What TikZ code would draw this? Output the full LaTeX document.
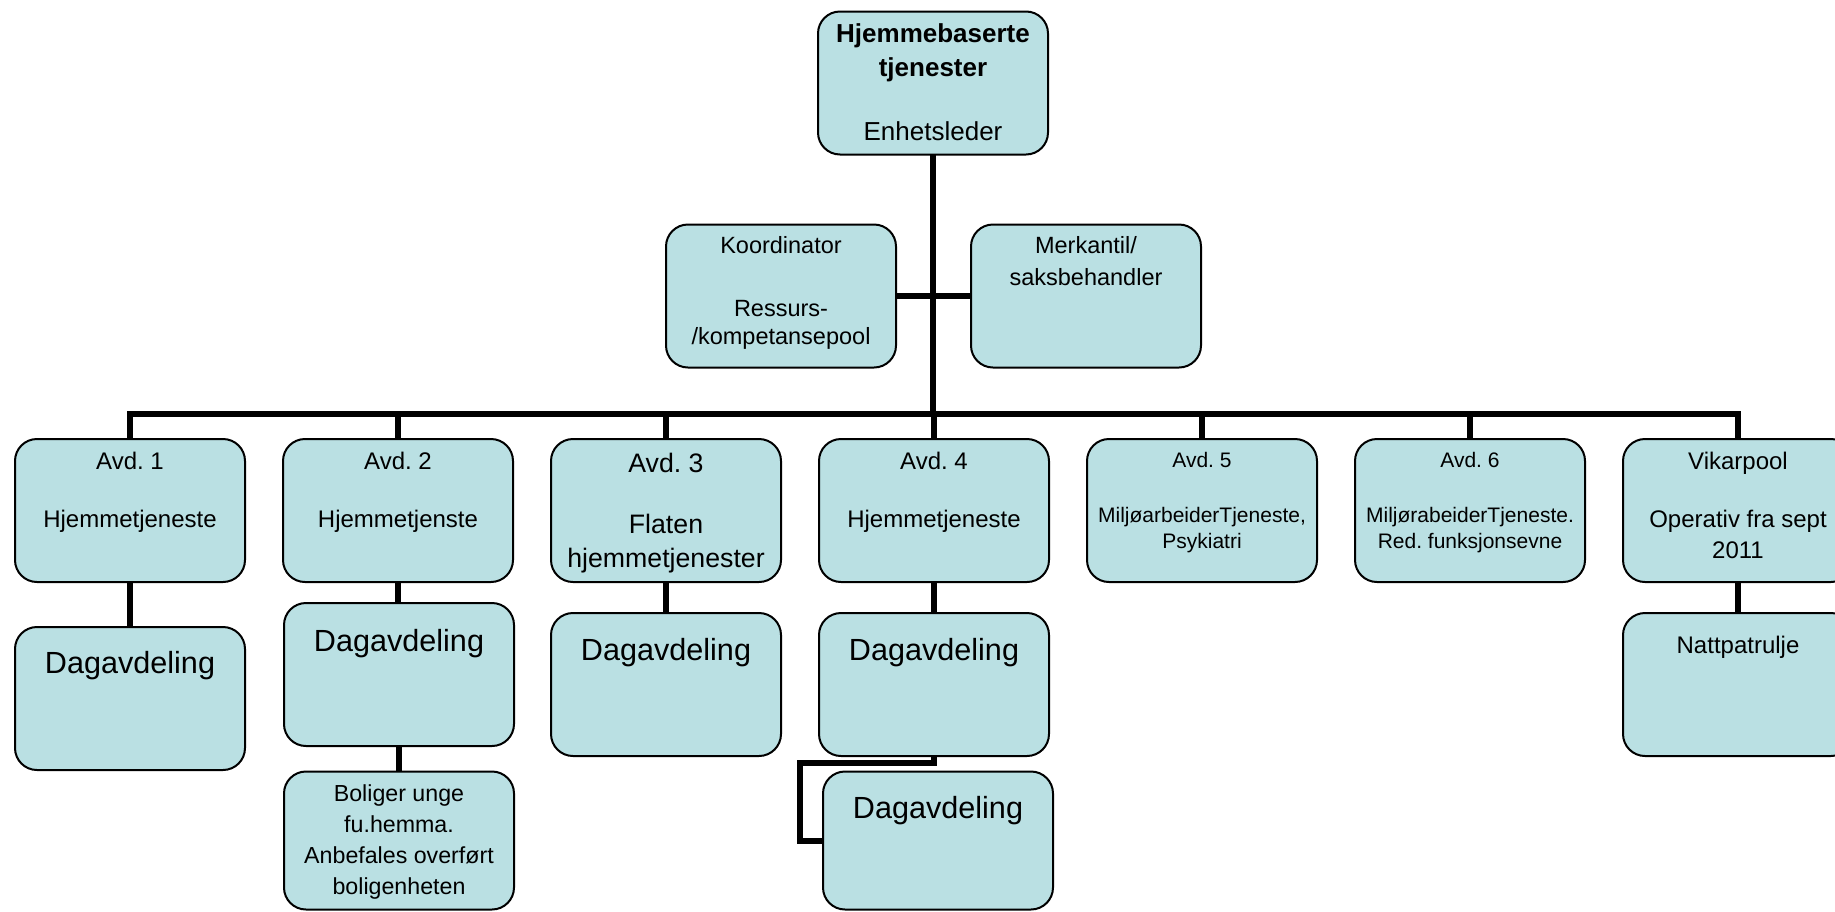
\documentclass[tikz,border=0pt]{standalone}
\usepackage{fontspec}
\setmainfont{Liberation Sans}
\usetikzlibrary{calc}
\definecolor{boxfill}{RGB}{186,224,227}
\frenchspacing
\tikzset{
  orgbox/.style={draw=black, line width=2pt, rounded corners=22pt, fill=boxfill,
    minimum width=230pt, minimum height=143pt, inner sep=0pt, outer sep=0pt},
  shortbox/.style={orgbox, minimum height=138pt},
  conn/.style={line width=6pt, draw=black},
  txt/.style={anchor=base, inner sep=0pt, font=\fontsize{#1}{#1}\selectfont},
  btxt/.style={anchor=base, inner sep=0pt, font=\fontsize{#1}{#1}\selectfont\bfseries},
}
\begin{document}
\begin{tikzpicture}[x=1pt,y=-1pt]
\clip (0,0) rectangle (1835,911);
\fill[white] (0,0) rectangle (1835,911);

% boxes
\node[orgbox] (top) at (933,83) {};
\node[orgbox] (koord) at (781,296) {};
\node[orgbox] (merk) at (1086,296) {};
\node[orgbox] (a1) at (130,510.5) {};
\node[orgbox] (a2) at (398,510.5) {};
\node[orgbox] (a3) at (666,510.5) {};
\node[orgbox] (a4) at (934,510.5) {};
\node[orgbox] (a5) at (1202,510.5) {};
\node[orgbox] (a6) at (1470,510.5) {};
\node[orgbox] (a7) at (1738,510.5) {};
\node[orgbox] (d1) at (130,698.5) {};
\node[orgbox] (d2) at (399,674.5) {};
\node[orgbox] (d3) at (666,684.5) {};
\node[orgbox] (d4) at (934,684.5) {};
\node[orgbox] (nat) at (1738,684.5) {};
\node[shortbox] (bol) at (399,840.5) {};
\node[shortbox] (d4b) at (938,840.5) {};

% connectors
\coordinate (busL) at (130,414);
\coordinate (elb) at (800,763);
\draw[conn] (top.south) -- (top.south |- busL);
\draw[conn] (koord.east) -- (merk.west);
\draw[conn] (a1.north) -- (a1.north |- busL) -- (a7.north |- busL) -- (a7.north);
\foreach \n in {a2,a3,a4,a5,a6}{\draw[conn] (\n.north) -- (\n.north |- busL);}
\draw[conn] (a1.south) -- (d1.north);
\draw[conn] (a2.south) -- (a2.south |- d2.north);
\draw[conn] (d2.south) -- (bol.north);
\draw[conn] (a3.south) -- (d3.north);
\draw[conn] (a4.south) -- (d4.north);
\draw[conn] (a7.south) -- (nat.north);
\draw[conn] (d4.south) -- (d4.south |- elb) -- (elb) |- (d4b.west);

% texts
\node[btxt=26] (t1) at (933,42) {Hjemmebaserte};
\node[btxt=26] (t2) at (933,76) {tjenester};
\node[txt=26] (t3) at (933,140) {Enhetsleder};

\node[txt=23.5] (k1) at (781,253) {Koordinator};
\node[txt=23.5] (k2) at (781,316) {Ressurs-};
\node[txt=23.5] (k3) at (781,344) {/kompetansepool};
\node[txt=23.5] (m1) at (1086,253) {Merkantil/};
\node[txt=23.5] (m2) at (1086,285) {saksbehandler};

\node[txt=24] (a1t1) at (130,469) {Avd. 1};
\node[txt=24] (a1t2) at (130,527) {Hjemmetjeneste};
\node[txt=24] (a2t1) at (398,469) {Avd. 2};
\node[txt=24] (a2t2) at (398,527) {Hjemmetjenste};
\node[txt=26.7] (a3t1) at (666,472) {Avd. 3};
\node[txt=26.7] (a3t2) at (666,533) {Flaten};
\node[txt=26.7] (a3t3) at (666,567) {hjemmetjenester};
\node[txt=24] (a4t1) at (934,469) {Avd. 4};
\node[txt=24] (a4t2) at (934,527) {Hjemmetjeneste};
\node[txt=21] (a5t1) at (1202,467) {Avd. 5};
\node[txt=21] (a5t2) at (1202,522) {MiljøarbeiderTjeneste,};
\node[txt=21] (a5t3) at (1202,548) {Psykiatri};
\node[txt=21] (a6t1) at (1470,467) {Avd. 6};
\node[txt=21] (a6t2) at (1470,522) {MiljørabeiderTjeneste.};
\node[txt=21] (a6t3) at (1470,548) {Red. funksjonsevne};
\node[txt=24] (a7t1) at (1738,469) {Vikarpool};
\node[txt=24] (a7t2) at (1738,527) {Operativ fra sept};
\node[txt=24] (a7t3) at (1738,558) {2011};

\node[txt=30.6] (d1t) at (130,673) {Dagavdeling};
\node[txt=30.6] (d2t) at (399,651) {Dagavdeling};
\node[txt=30.6] (d3t) at (666,660) {Dagavdeling};
\node[txt=30.6] (d4t) at (934,660) {Dagavdeling};
\node[txt=30.6] (d4bt) at (938,818) {Dagavdeling};
\node[txt=24] (natt) at (1738,653) {Nattpatrulje};

\node[txt=23.2] (b1) at (399,801) {Boliger unge};
\node[txt=23.2] (b2) at (399,832) {fu.hemma.};
\node[txt=23.2] (b3) at (399,863) {Anbefales overført};
\node[txt=23.2] (b4) at (399,894) {boligenheten};
\end{tikzpicture}
\end{document}
